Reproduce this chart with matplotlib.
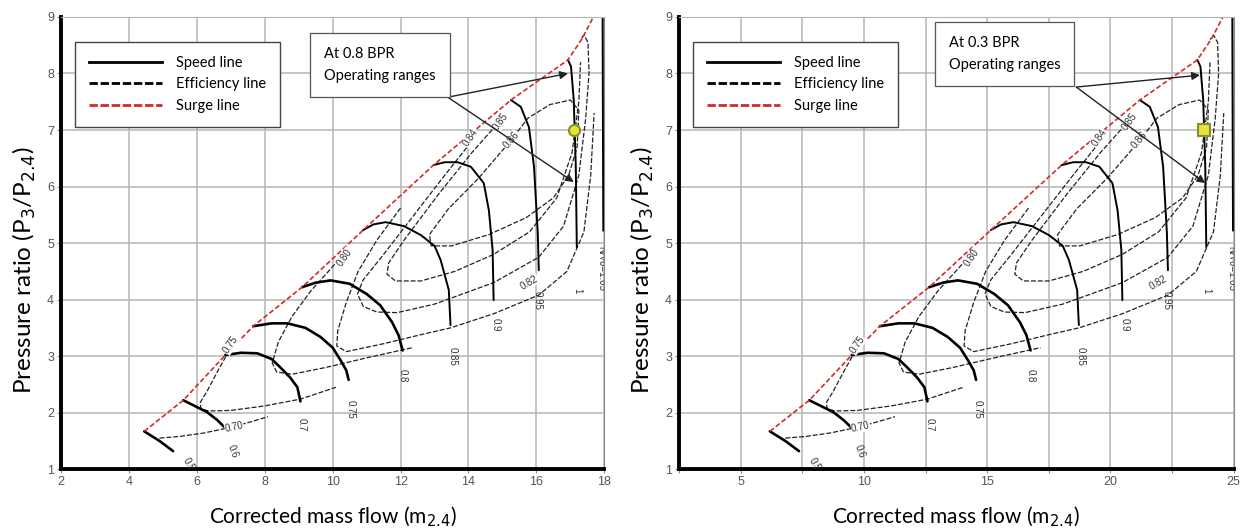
import matplotlib.pyplot as plt
from matplotlib.lines import Line2D

plt.rcParams['font.family'] = ['Lato', 'DejaVu Sans']

# ---- compressor map, flow in units of the 0.8 BPR map ----
speed_names = ['0.5', '0.6', '0.7', '0.75', '0.8', '0.85', '0.9', '0.95', '1', '1.05']
speed_flow = [
    [4.45, 4.9, 5.3],
    [5.6, 6.0, 6.3, 6.6, 6.84],
    [6.84, 7.3, 7.78, 8.2, 8.46, 8.75, 8.96, 9.05],
    [7.66, 8.2, 8.67, 9.2, 9.64, 10.0, 10.23, 10.4, 10.47],
    [9.1, 9.5, 9.94, 10.5, 11.0, 11.4, 11.75, 11.94, 12.06],
    [10.9, 11.2, 11.56, 12.1, 12.6, 13.0, 13.18, 13.42, 13.47],
    [12.97, 13.3, 13.68, 14.07, 14.45, 14.6, 14.71, 14.74],
    [15.25, 15.54, 15.78, 15.93, 16.04, 16.07],
    [16.93, 17.02, 17.1, 17.16, 17.19],
    [17.95, 17.96, 17.97],
]
speed_pr = [
    [1.67, 1.5, 1.32],
    [2.22, 2.1, 2.01, 1.87, 1.73],
    [3.02, 3.06, 3.05, 2.95, 2.8, 2.62, 2.45, 2.2],
    [3.53, 3.58, 3.58, 3.5, 3.34, 3.15, 2.93, 2.75, 2.58],
    [4.22, 4.3, 4.34, 4.28, 4.1, 3.9, 3.6, 3.37, 3.1],
    [5.23, 5.33, 5.37, 5.3, 5.14, 4.95, 4.7, 4.17, 3.55],
    [6.38, 6.43, 6.43, 6.35, 6.06, 5.58, 4.88, 3.99],
    [7.53, 7.41, 7.05, 6.35, 5.18, 4.52],
    [8.24, 8.12, 7.53, 6.35, 4.93],
    [9.0, 7.0, 5.22],
]

surge_flow = [4.45, 5.6, 6.84, 7.66, 9.1, 10.9, 12.97, 15.25, 16.93, 17.35, 17.72]
surge_pr = [1.67, 2.22, 3.02, 3.53, 4.22, 5.23, 6.38, 7.53, 8.24, 8.62, 9.05]

eff_names = ['0.70', '0.75', '0.80', '0.82', '0.84', '0.85', '0.86']
eff_flow = [
    [4.9, 5.5, 6.2, 7.0, 7.6, 8.1],
    [6.95, 6.6, 6.3, 6.1, 6.12, 6.35, 7.0, 8.0, 9.05, 10.1],
    [10.45, 9.95, 9.35, 8.8, 8.4, 8.22, 8.35, 8.8, 9.8, 11.0, 12.35],
    [12.0, 11.3, 10.75, 10.4, 10.15, 10.12, 10.4, 11.5, 12.6, 13.47, 14.74, 16.07, 16.9, 17.4, 17.6, 17.7],
    [14.2, 13.3, 12.4, 11.5, 10.9, 10.73, 10.9, 11.3, 11.9, 13.0, 14.74, 16.07, 16.8, 17.25, 17.45, 17.55, 17.52, 17.4, 17.3],
    [15.1, 14.1, 13.1, 12.1, 11.65, 11.6, 11.85, 12.6, 13.6, 14.74, 15.8, 16.6, 17.05, 17.25, 17.3],
    [15.2, 15.75, 16.4, 17.0, 17.25, 17.2, 16.95, 16.5, 15.7, 14.6, 13.5, 12.9, 12.85, 13.4, 14.3, 15.2],
]
eff_pr = [
    [1.55, 1.58, 1.64, 1.74, 1.84, 1.93],
    [3.1, 2.72, 2.38, 2.18, 2.07, 2.03, 2.04, 2.12, 2.24, 2.45],
    [4.9, 4.55, 4.15, 3.7, 3.25, 2.88, 2.72, 2.68, 2.8, 2.97, 3.15],
    [5.62, 5.05, 4.5, 3.95, 3.45, 3.18, 3.08, 3.22, 3.38, 3.5, 3.75, 4.08, 4.5, 5.2, 6.2, 7.3],
    [6.88, 6.2, 5.5, 4.8, 4.35, 4.1, 3.88, 3.78, 3.77, 3.92, 4.3, 4.75, 5.3, 6.2, 7.2, 8.0, 8.55, 8.68, 8.6],
    [7.28, 6.6, 5.85, 5.05, 4.65, 4.45, 4.33, 4.33, 4.5, 4.8, 5.2, 5.8, 6.6, 7.5, 8.2],
    [6.78, 7.21, 7.45, 7.53, 7.35, 6.7, 6.2, 5.8, 5.45, 5.15, 4.95, 4.95, 5.15, 5.6, 6.15, 6.78],
]

# label placement (flow, pr, rotation)
speed_label_pos = [(5.75, 1.08, -60), (7.07, 1.32, -70), (9.1, 1.78, -90), (10.52, 2.05, -90),
                   (12.06, 2.66, -90), (13.53, 3.0, -90), (14.8, 3.55, -90), (16.04, 3.99, -90),
                   (17.2, 4.15, -90)]
eff_label_pos = [(7.1, 1.74, 12), (7.0, 3.2, 55), (10.35, 4.75, 55), (15.8, 4.3, 30),
                 (14.06, 6.86, 55), (14.95, 7.14, 55), (15.25, 6.82, 50)]

# two panels: bypass ratio, flow scale, axis range, box & arrows
bpr = ['0.8', '0.3']
flow_scale = [1.0, 1.39]
op_point = [(17.1, 7.0), (23.8, 7.0)]
xlims = [(2, 18), (2.5, 25)]
box_xy = [(9.75, 8.47), (13.45, 8.66)]
arrow_from = [(13.39, 7.58), (18.62, 7.76)]
arrow_to = [[(16.93, 8.0), (17.1, 6.08)], [(23.64, 7.97), (23.85, 6.06)]]

fig = plt.figure(figsize=(12.46, 5.29), dpi=100)
axes = [fig.add_axes([0.049, 0.113, 0.436, 0.855]),
        fig.add_axes([0.545, 0.113, 0.445, 0.855])]

tick_family = ['Liberation Sans', 'DejaVu Sans']
small_font = dict(family=tick_family, size=7, color='#333333')

for k, ax in enumerate(axes):
    s = flow_scale[k]
    ax.set_xlim(*xlims[k])
    ax.set_ylim(1, 9)
    if k == 0:
        ax.set_xticks(range(2, 19, 2))
    else:
        ax.set_xticks([2.5 * i for i in range(1, 11)])
        ax.set_xticklabels(['' if i % 2 else str(int(2.5 * i)) for i in range(1, 11)])
    ax.set_yticks(range(1, 10))
    for lab in ax.get_xticklabels() + ax.get_yticklabels():
        lab.set_fontfamily(tick_family)
        lab.set_fontsize(9)
        lab.set_color('#555555')
    ax.tick_params(length=3, width=0.8, color='#888888', pad=2)
    ax.grid(True, color='#b5b5b5', lw=1.1)
    ax.set_axisbelow(True)
    ax.spines['left'].set_linewidth(2.8)
    ax.spines['bottom'].set_linewidth(2.8)
    ax.spines['top'].set_color('#b5b5b5')
    ax.spines['right'].set_color('#888888')

    for i in range(len(eff_names)):
        ax.plot([f * s for f in eff_flow[i]], eff_pr[i], color='#222222', lw=0.9,
                ls=(0, (4, 1.5)))
    for i in range(len(speed_names)):
        ax.plot([f * s for f in speed_flow[i]], speed_pr[i], color='black',
                lw=1.9 if i < 5 else 1.4, solid_capstyle='round')
    ax.plot([f * s for f in surge_flow], surge_pr, color='#d42a2a', lw=1.2, ls=(0, (3, 1.5)))

    for i, (fx, py, rot) in enumerate(speed_label_pos):
        ax.text(fx * s, py, speed_names[i], rotation=rot, ha='center', va='center',
                clip_on=True, **small_font)
    ax.text(17.92 * s, 4.55, 'N/\u221a\u03b8=1.05', rotation=-90, ha='center', va='center',
            clip_on=True, **small_font)
    for i, (fx, py, rot) in enumerate(eff_label_pos):
        ax.text(fx * s, py, eff_names[i], rotation=rot, ha='center', va='center',
                bbox=dict(fc='white', ec='none', pad=0.3), **small_font)

    ax.plot(*op_point[k], marker='o' if k == 0 else 's', ms=8, mfc='#e4e43a',
            mec='#8c8c2a', mew=1.5, zorder=6)

    ax.text(box_xy[k][0], box_xy[k][1], 'At %s BPR\nOperating ranges' % bpr[k],
            fontsize=10.5, va='top', ha='left', linespacing=1.75,
            bbox=dict(fc='white', ec='#555555', lw=0.9, pad=10), zorder=7)
    for tx, ty in arrow_to[k]:
        ax.annotate('', xy=(tx, ty), xytext=arrow_from[k],
                    arrowprops=dict(arrowstyle='-|>', color='#222222', lw=1.0,
                                    mutation_scale=12, shrinkA=0, shrinkB=0), zorder=6)

    handles = [Line2D([], [], color='black', lw=2),
               Line2D([], [], color='black', lw=2, ls=(0, (3, 1))),
               Line2D([], [], color='#d42a2a', lw=2, ls=(0, (3, 1)))]
    leg = ax.legend(handles, ['Speed line', 'Efficiency line', 'Surge line'],
                    loc='upper left', bbox_to_anchor=(0.012, 0.96), fontsize=10.5,
                    handlelength=5.0, handletextpad=1.0, labelspacing=0.5,
                    borderpad=0.95, fancybox=False, framealpha=1, edgecolor='#444444')
    leg.get_frame().set_linewidth(1.0)

    ax.set_ylabel('Pressure ratio (P$_3$/P$_{2.4}$)', fontsize=17.5)
    ax.yaxis.set_label_coords(-0.042, 0.44)
    ax.set_xlabel('Corrected mass flow (m$_{2.4}$)', fontsize=15, labelpad=12)

fig.savefig('out.png', dpi=100)
